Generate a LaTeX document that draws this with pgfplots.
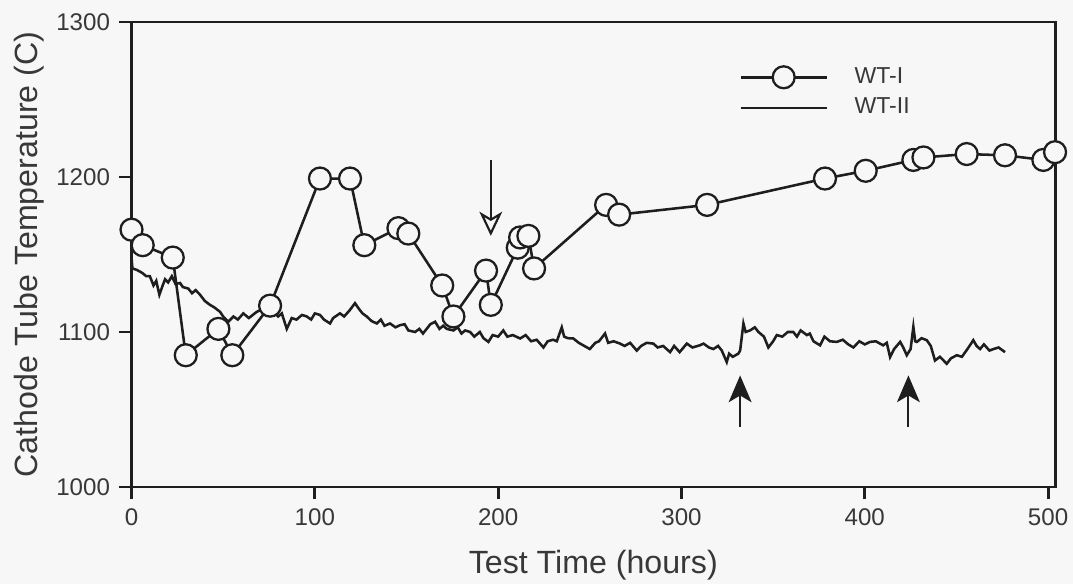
\documentclass[border=0pt]{standalone}
\usepackage{fontspec}
\setmainfont{Liberation Sans}
\usepackage{pgfplots}
\pgfplotsset{compat=1.18}
\usetikzlibrary{arrows.meta,backgrounds}
\definecolor{ink}{HTML}{1E1E1E}
\definecolor{txt}{HTML}{383838}
\definecolor{bg}{HTML}{F7F7F7}

\begin{document}
\begin{tikzpicture}
\begin{axis}[
 scale only axis,
 width=344.6pt, height=173.5pt,
 xmin=0, xmax=503.8, ymin=1000, ymax=1300,
 xtick={0,100,200,300,400,500}, ytick={1000,1100,1200,1300},
 tick align=outside, xtick pos=left, ytick pos=left,
 major tick length=4.5pt,
 axis line style={ink, line width=1.1pt},
 every tick/.style={ink, line width=1.1pt},
 tick label style={font=\fontsize{9}{10}\selectfont, text=txt},
 /pgf/number format/assume math mode=true,
 /pgf/number format/1000 sep={},
 xlabel={Test Time (hours)}, ylabel={Cathode Tube Temperature (C)},
 label style={font=\fontsize{12}{14}\selectfont, text=txt},
 xlabel style={at={(axis description cs:0.5,0)}, anchor=center, yshift=-29pt},
 ylabel style={at={(axis description cs:0,0.5)}, anchor=center, yshift=38.2pt},
 clip=false,
 legend image code/.code={\draw[mark repeat=2,mark phase=2,#1] plot coordinates {(0pt,0pt) (16pt,0pt) (32pt,0pt)};},
 legend style={at={(axis cs:327,1278)}, anchor=north west, draw=none, fill=none,
   font=\fontsize{8.6}{9}\selectfont, text=txt, row sep=0pt, column sep=8pt},
 legend cell align=left,
]
\addplot[ink, line width=0.95pt, mark=*, mark size=4.1pt, mark options={fill=bg, draw=ink, line width=0.85pt}] coordinates {
(0,1166) (6.1,1156) (22.5,1148) (29.6,1085) (47.4,1102) (55,1085) (75.6,1117)
(102.8,1199) (119.2,1199) (127,1156) (145.6,1167) (151,1163.5) (169.5,1130)
(175.6,1110) (193.4,1139.6) (196,1117.5) (210.7,1154.4) (212,1161) (216.5,1162)
(219.6,1141) (258.9,1182) (266,1175.7) (314,1182) (378.3,1199) (400.5,1204)
(426.5,1211) (432,1212.6) (455.6,1214.8) (476.5,1214) (497.4,1211) (503.8,1216)
};
\addlegendentry{WT-I}
\addplot[ink, line width=0.95pt] coordinates {
(0,1148) (0.5,1141) (3,1140) (6,1138) (8,1136) (10,1136) (12,1130) (13.5,1133)
(15.2,1124) (17,1130) (18.3,1134) (20,1132) (22,1136) (24,1131) (26.5,1131.6)
(28,1129) (31,1128) (33,1125) (35,1127) (37.4,1124) (40,1120) (42.8,1117.5)
(45,1116) (48.3,1113) (50,1110) (52.8,1106.6) (55.6,1110) (58,1108) (61,1112)
(64,1109) (68.3,1113) (71.9,1115) (74,1118) (77.4,1113) (80,1110) (82,1112)
(84.7,1102) (87.4,1109) (90,1108) (93,1111) (95.6,1110) (98,1108) (100,1112)
(102.8,1111) (105,1108) (108.3,1105.5) (110,1109) (113.7,1112) (116,1110)
(119,1114) (121.9,1118.6) (124,1115) (126,1112) (128.3,1110) (131,1107)
(133.8,1105.5) (136,1108) (138,1104) (141,1105.5) (144,1103) (146.5,1104.4)
(149,1105) (151,1101) (154.7,1100) (157,1102) (159,1099) (161,1102) (163,1105)
(165.6,1106.6) (168,1102) (170,1104) (172,1102) (175.6,1101) (178,1103)
(180,1099) (182,1101) (184.7,1100) (187,1097) (190,1100) (192,1096)
(194.7,1093.6) (197,1098) (200,1097) (202.8,1101) (205,1097) (208,1098)
(212,1095.8) (215,1098) (218,1094) (221,1095) (224.7,1090) (227,1094)
(230,1095) (232,1094) (234.7,1103) (236,1097) (238,1096) (241,1095.8)
(244,1093) (247,1091) (250,1089) (253,1093) (255,1094) (258.3,1099) (260,1093)
(263,1094) (266.5,1092.5) (269,1091) (272,1093) (275.6,1088) (278,1091)
(281,1093) (284.7,1092.5) (287,1090) (290,1091) (293.8,1087) (296,1091)
(299,1087) (302.9,1092.5) (306,1090) (310,1091.4) (312,1092.5) (315,1090)
(317.4,1089) (320,1091) (322,1088) (324.7,1080.6) (326,1086) (328,1084)
(331,1086) (332,1088) (333.8,1105.5) (335,1100) (337.4,1101) (340,1103)
(342,1100) (345,1097) (347.4,1090) (350,1094) (352,1098) (355,1097) (358,1100)
(361,1100) (363,1097) (365,1101) (368.4,1098) (370,1099) (372,1094)
(375.6,1091.4) (378,1097) (381,1094) (384.7,1093.6) (388,1095) (391,1092)
(393.8,1090) (397,1094) (400,1092) (402.9,1093.6) (406,1094) (410,1091.4)
(412,1093) (413.8,1083.8) (416,1089) (419.3,1093.6) (421,1090) (422.9,1085)
(425,1089) (426.5,1103.4) (427.5,1094) (428.4,1093.6) (431,1096) (433.8,1094.7)
(436,1091) (438.3,1081.6) (441,1084) (444.7,1079.5) (447,1083) (450.2,1085)
(453,1084) (456,1089) (459.2,1094.7) (461,1091) (462.9,1089) (465,1092)
(468,1088) (470.2,1089) (473,1090) (476.5,1087)
};
\addlegendentry{WT-II}
\draw[ink, line width=0.8pt, -{Stealth[open, length=9pt, width=8.5pt, inset=2.5pt]}] (axis cs:196,1211) -- (axis cs:196,1162);
\draw[ink, line width=0.8pt, -{Stealth[length=10pt, width=8.5pt, inset=2.5pt]}] (axis cs:332,1039) -- (axis cs:332,1072);
\draw[ink, line width=0.8pt, -{Stealth[length=10pt, width=8.5pt, inset=2.5pt]}] (axis cs:423.8,1039) -- (axis cs:423.8,1072);
\coordinate (O) at (axis cs:0,1000);
\end{axis}
\pgfresetboundingbox
\path[use as bounding box] ([shift={(-49.07pt,-36.2pt)}]O) rectangle ([shift={(351.3pt,181.7pt)}]O);
\begin{scope}[on background layer]
\fill[bg] (current bounding box.south west) rectangle (current bounding box.north east);
\end{scope}
\end{tikzpicture}
\end{document}
